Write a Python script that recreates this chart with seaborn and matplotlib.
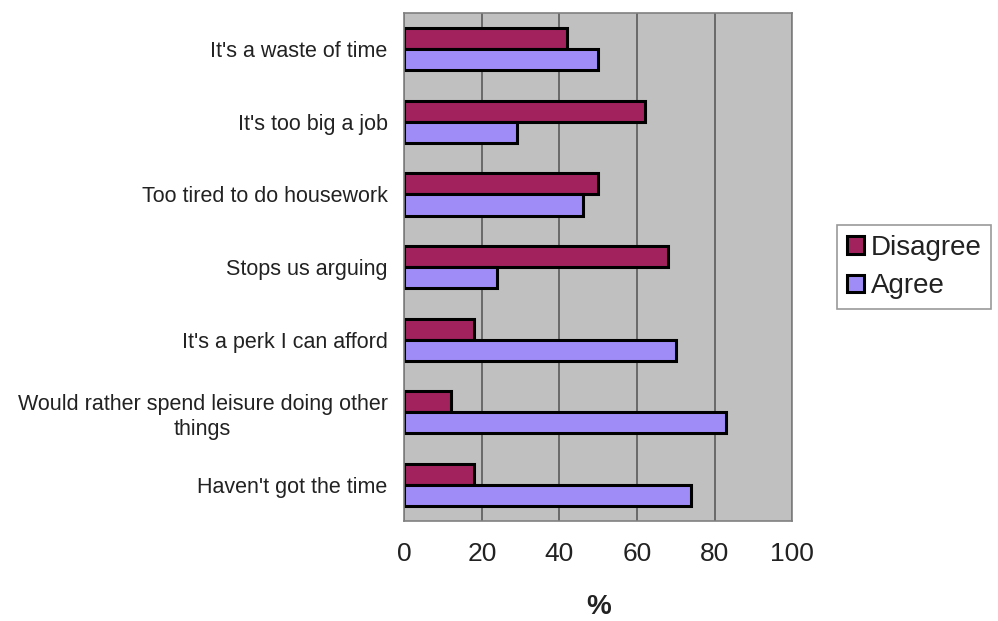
import matplotlib
matplotlib.use("Agg")
import matplotlib.pyplot as plt
import seaborn as sns
import pandas as pd
import numpy as np

reasons = [
    "It's a waste of time",
    "It's too big a job",
    "Too tired to do housework",
    "Stops us arguing",
    "It's a perk I can afford",
    "Would rather spend leisure doing other\nthings",
    "Haven't got the time",
]
disagree = [42, 62, 50, 68, 18, 12, 18]
agree = [50, 29, 46, 24, 70, 83, 74]
x_ticks = [0, 20, 40, 60, 80, 100]

df = pd.DataFrame({
    "reason": reasons * 2,
    "pct": disagree + agree,
    "response": ["Disagree"] * len(reasons) + ["Agree"] * len(reasons),
})

sns.set_style("white")
plt.rcParams["font.family"] = ["Liberation Sans", "DejaVu Sans"]

fig = plt.figure(figsize=(9.98, 6.21), dpi=100)
ax = fig.add_axes([0.405, 0.161, 0.389, 0.818])

palette = {"Disagree": "#A2225E", "Agree": "#A08CF7"}
sns.barplot(data=df, x="pct", y="reason", hue="response",
            hue_order=["Disagree", "Agree"], palette=palette,
            orient="h", width=0.58, edgecolor="black", linewidth=2.2,
            saturation=1, ax=ax, legend=True)

ax.set_facecolor("#C0C0C0")
ax.set_xlim(0, 100)
ax.set_ylim(len(reasons) - 0.5, -0.5)
ax.set_xticks(x_ticks)
ax.set_xticklabels([str(t) for t in x_ticks], fontsize=19, color="#222222")
ax.tick_params(axis="x", direction="out", length=5, width=1, color="#808080", pad=10)

# Category labels without major ticks; small marks at category boundaries
ax.tick_params(axis="y", which="major", length=0, labelsize=15.5, pad=12)
ax.set_yticks(np.arange(-0.5, len(reasons)), minor=True)
ax.tick_params(axis="y", which="minor", direction="out", length=4, width=1, color="#808080")
for lbl in ax.get_yticklabels():
    lbl.set_multialignment("center")
    lbl.set_linespacing(1.3)
    lbl.set_color("#222222")

ax.set_axisbelow(True)
ax.xaxis.grid(True, color="#5a5a5a", linewidth=1.2)
ax.yaxis.grid(False)
for side in ["left", "bottom", "top", "right"]:
    ax.spines[side].set_visible(True)
    ax.spines[side].set_color("#808080")
    ax.spines[side].set_linewidth(1.2)

ax.set_xlabel("%", fontsize=20, fontweight="bold", labelpad=20, color="#222222")
ax.set_ylabel("")

leg = ax.legend(loc="center left", bbox_to_anchor=(1.116, 0.50), fontsize=20,
                frameon=True, fancybox=False, edgecolor="#808080",
                handlelength=0.6, handleheight=0.6, handletextpad=0.25,
                borderpad=0.35, labelspacing=0.45, borderaxespad=0)
leg.get_frame().set_linewidth(1.2)
for t in leg.get_texts():
    t.set_color("#222222")
for h in leg.legend_handles:
    h.set_linewidth(2.2)

fig.savefig("out.png", dpi=100)
